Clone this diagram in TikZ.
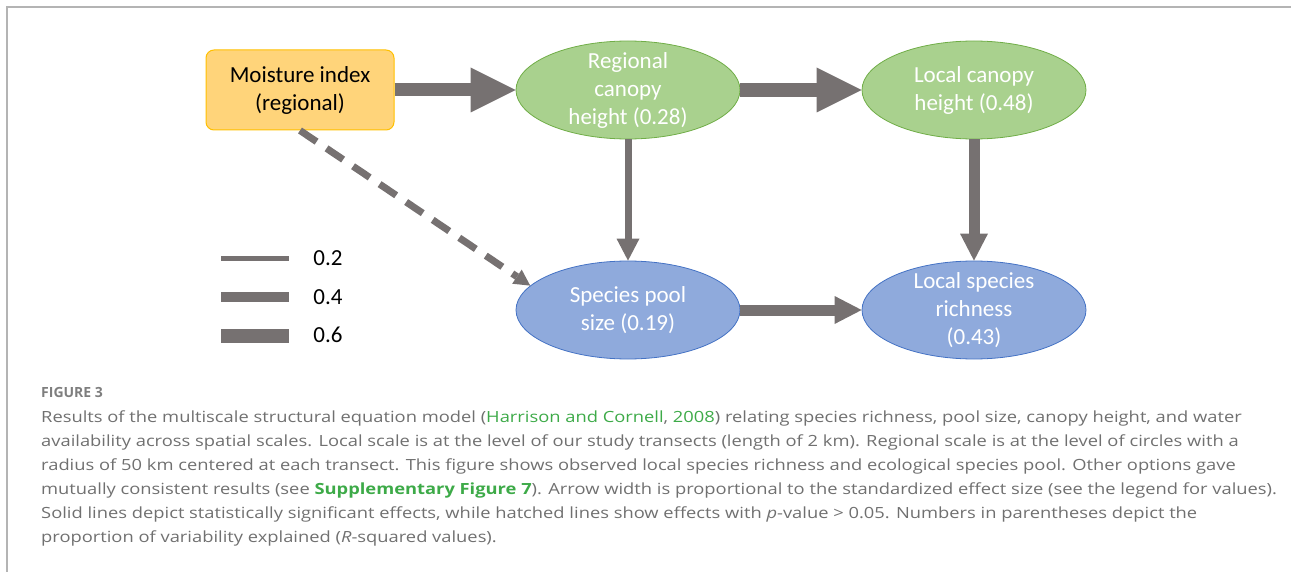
\documentclass[tikz,border=0pt]{standalone}
\usepackage{fontspec}
\setmainfont{Carlito}
\newfontfamily\captionfont[FakeStretch=1.19]{Open Sans}
\newfontfamily\labelfont{Open Sans}
\usepackage{tikz}
\usetikzlibrary{shapes.geometric, arrows.meta, positioning}
\usetikzlibrary{calc}

\definecolor{arrowgray}{HTML}{767171}
\definecolor{greenfill}{HTML}{A9D18E}
\definecolor{greenline}{HTML}{70AD47}
\definecolor{bluefill}{HTML}{8FAADC}
\definecolor{blueline}{HTML}{4472C4}
\definecolor{goldfill}{HTML}{FFD47A}
\definecolor{goldline}{HTML}{FFC000}
\definecolor{captiongray}{HTML}{707070}
\definecolor{linkgreen}{HTML}{3DAA48}
\definecolor{framegray}{HTML}{B4B4B4}

\tikzstyle{driver} = [rectangle, rounded corners=8pt, minimum width=188pt, minimum height=80pt, text centered, align=center, draw=goldline, line width=1pt, fill=goldfill, font=\fontsize{23}{28}\selectfont]
\tikzstyle{canopy} = [ellipse, minimum width=224pt, minimum height=98pt, inner sep=0pt, draw=greenline, line width=0.8pt, fill=greenfill]
\tikzstyle{richness} = [ellipse, minimum width=224pt, minimum height=98pt, inner sep=0pt, draw=blueline, line width=0.8pt, fill=bluefill]
\tikzstyle{inside} = [text=white, align=center, inner sep=0pt, font=\fontsize{23}{28}\selectfont]
\tikzstyle{legend_text} = [font=\fontsize{23}{28}\selectfont, inner sep=0pt]
\tikzstyle{caption_text} = [anchor=base west, inner sep=0pt, text=captiongray, font=\captionfont\fontsize{15.4}{24}\selectfont]
\tikzstyle{arrow_wide} = [line width=14pt, draw=arrowgray, -{Triangle[length=45pt 0 0, width=45pt 0 0, line width=0pt 0 0]}]
\tikzstyle{arrow_mid} = [line width=11pt, draw=arrowgray, -{Triangle[length=27pt 0 0, width=28pt 0 0, line width=0pt 0 0]}]
\tikzstyle{arrow_thin} = [line width=7pt, draw=arrowgray, -{Triangle[length=22pt 0 0, width=23pt 0 0, line width=0pt 0 0]}]
\tikzstyle{arrow_dashed} = [line width=7pt, draw=arrowgray, dash pattern=on 20pt off 12pt, -{Triangle[length=16pt 0 0, width=17pt 0 0, line width=0pt 0 0]}]

\begin{document}
\begin{tikzpicture}[x=1pt, y=-1pt, node distance=346pt]

	\useasboundingbox (0,0) rectangle (1291,572);
	\draw [framegray, line width=2pt] (7,572) -- (7,7) -- (1291,7);

		\node (moisture) at (300,90) [driver] {Moisture index \\ (regional)};

		\node (regional_canopy) at ($(moisture)+(328,0)$) [canopy, label={[inside]center:{Regional \\ canopy \\ height (0.28)}}] {};

		\node (local_canopy) [canopy, right of=regional_canopy, label={[inside]center:{Local canopy \\ height (0.48)}}] {};

		\node (species_pool) [richness, node distance=220pt, below of=regional_canopy, label={[inside]center:{Species pool \\ size (0.19)}}] {};

		\node (local_richness) [richness, node distance=220pt, below of=local_canopy, label={[inside]center:{Local species \\ richness \\ (0.43)}}] {};

		% The arrows between the nodes
		\draw [arrow_wide, line width=13pt] (moisture) -- (regional_canopy);
		\draw [arrow_wide] (regional_canopy) -- (local_canopy);
		% -
		\draw [arrow_thin] (regional_canopy) -- (species_pool);
		\draw [arrow_mid] (local_canopy) -- (local_richness);
		\draw [arrow_mid] (species_pool) -- (local_richness);
		% -
		\draw [arrow_dashed] (moisture.south) -- (species_pool.166);

		% Legend for the arrow widths
		\node (legend_two) at (328,258) [legend_text] {0.2};
		\node (legend_four) at (328,297) [legend_text] {0.4};
		\node (legend_six) at (328,335) [legend_text] {0.6};
		\draw [arrowgray, line width=5pt] (221,259) -- (289,259);
		\draw [arrowgray, line width=10pt] (221,297) -- (289,297);
		\draw [arrowgray, line width=14pt] (221,336) -- (289,336);

		% Caption below the figure
		\node (figure_label) at (41,397) [caption_text, font=\labelfont\bfseries\fontsize{14}{18}\selectfont, text=captiongray!90] {FIGURE 3};
		\node (caption_one) at (41,422) [caption_text] {Results of the multiscale structural equation model ({\color{linkgreen}Harrison and Cornell}, {\color{linkgreen}2008}) relating species richness, pool size, canopy height, and water};
		\node (caption_two) at (41,446) [caption_text] {availability across spatial scales. Local scale is at the level of our study transects (length of 2 km). Regional scale is at the level of circles with a};
		\node (caption_three) at (41,470) [caption_text] {radius of 50 km centered at each transect. This figure shows observed local species richness and ecological species pool. Other options gave};
		\node (caption_four) at (41,494) [caption_text] {mutually consistent results (see {\color{linkgreen}\bfseries Supplementary Figure 7}). Arrow width is proportional to the standardized effect size (see the legend for values).};
		\node (caption_five) at (41,518) [caption_text] {Solid lines depict statistically significant effects, while hatched lines show effects with \textit{p}-value > 0.05. Numbers in parentheses depict the};
		\node (caption_six) at (41,542) [caption_text] {proportion of variability explained (\textit{R}-squared values).};

	\end{tikzpicture}
\end{document}
